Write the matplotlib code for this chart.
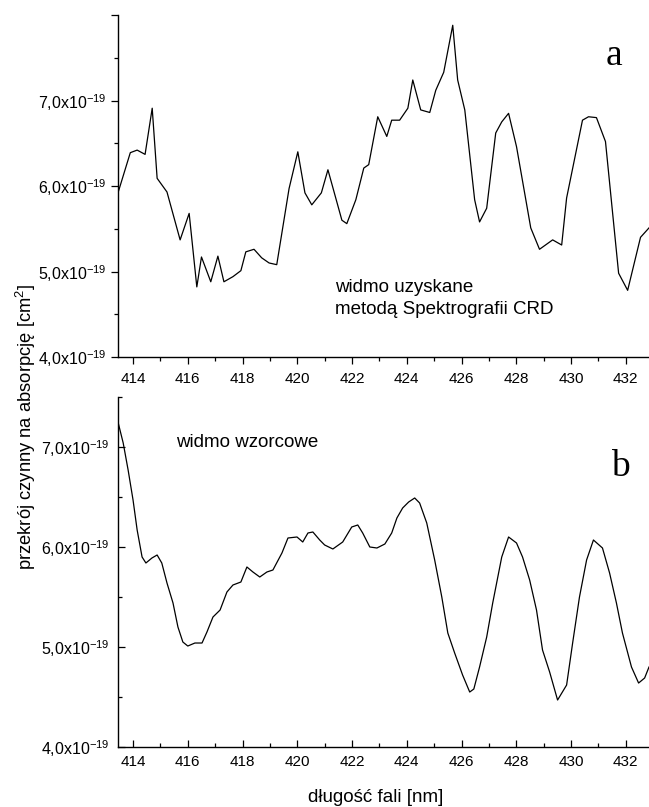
import matplotlib
matplotlib.use('Agg')
import matplotlib.pyplot as plt
from matplotlib.ticker import MultipleLocator, FuncFormatter

plt.rcParams['font.family'] = ['Liberation Sans', 'DejaVu Sans']

# widmo uzyskane (CRD) - panel a, wartosci w 1e-19 cm^2
wl_a = [413.45, 413.9, 414.15, 414.44, 414.7, 414.88, 415.24, 415.72, 416.05, 416.33,
        416.5, 416.84, 417.1, 417.32, 417.65, 417.94, 418.12, 418.42, 418.7, 418.97,
        419.25, 419.7, 420.02, 420.28, 420.53, 420.88, 421.12, 421.63, 421.81, 422.14,
        422.43, 422.61, 422.94, 423.27, 423.45, 423.74, 424.04, 424.22, 424.51, 424.84,
        425.06, 425.35, 425.68, 425.86, 426.12, 426.48, 426.66, 426.92, 427.25, 427.47,
        427.72, 428.01, 428.53, 428.85, 429.33, 429.66, 429.84, 430.42, 430.64, 430.93,
        431.26, 431.74, 432.07, 432.54, 432.85]
cs_a = [5.92, 6.39, 6.42, 6.37, 6.91, 6.09, 5.93, 5.37, 5.68, 4.82,
        5.17, 4.88, 5.18, 4.88, 4.94, 5.01, 5.23, 5.26, 5.16, 5.10,
        5.08, 5.97, 6.40, 5.92, 5.78, 5.92, 6.19, 5.60, 5.56, 5.84,
        6.21, 6.25, 6.81, 6.58, 6.77, 6.77, 6.91, 7.24, 6.89, 6.86,
        7.12, 7.33, 7.88, 7.24, 6.89, 5.84, 5.58, 5.74, 6.62, 6.75,
        6.85, 6.46, 5.51, 5.26, 5.37, 5.31, 5.86, 6.77, 6.81, 6.80,
        6.52, 4.98, 4.78, 5.40, 5.51]

# widmo wzorcowe - panel b
wl_b = [413.45, 413.64, 413.82, 414.0, 414.15, 414.33, 414.47, 414.69, 414.88, 415.05,
        415.24, 415.46, 415.64, 415.82, 416.0, 416.26, 416.52, 416.7, 416.92, 417.18,
        417.43, 417.65, 417.94, 418.16, 418.38, 418.63, 418.89, 419.11, 419.44, 419.66,
        419.99, 420.2, 420.39, 420.57, 420.82, 421.0, 421.3, 421.66, 421.99, 422.21,
        422.39, 422.65, 422.91, 423.2, 423.45, 423.64, 423.85, 424.07, 424.29, 424.47,
        424.73, 425.02, 425.28, 425.5, 425.75, 426.04, 426.3, 426.45, 426.66, 426.92,
        427.14, 427.47, 427.72, 428.01, 428.23, 428.49, 428.74, 428.96, 429.22, 429.51,
        429.84, 430.06, 430.31, 430.57, 430.82, 431.15, 431.41, 431.66, 431.88, 432.21,
        432.47, 432.69, 432.85]
cs_b = [7.25, 7.04, 6.77, 6.47, 6.17, 5.90, 5.84, 5.89, 5.92, 5.84,
        5.64, 5.44, 5.20, 5.05, 5.01, 5.04, 5.04, 5.15, 5.30, 5.37,
        5.55, 5.62, 5.65, 5.80, 5.75, 5.70, 5.75, 5.77, 5.94, 6.09,
        6.10, 6.05, 6.14, 6.15, 6.07, 6.02, 5.98, 6.05, 6.20, 6.22,
        6.14, 6.00, 5.99, 6.03, 6.14, 6.29, 6.39, 6.45, 6.49, 6.44,
        6.24, 5.87, 5.50, 5.14, 4.94, 4.72, 4.55, 4.58, 4.80, 5.10,
        5.44, 5.90, 6.10, 6.04, 5.90, 5.67, 5.37, 4.97, 4.75, 4.47,
        4.62, 5.04, 5.50, 5.87, 6.07, 5.99, 5.74, 5.44, 5.14, 4.80,
        4.64, 4.69, 4.80]


def fmt(v, pos):
    # gorna krawedz osi bez opisu
    if v > 7.6:
        return ''
    return '%d,0x10$^{\\mathregular{-19}}$' % round(v)


fig = plt.figure(figsize=(6.49, 8.07), dpi=100)
ax1 = fig.add_axes([0.1818, 0.5576, 0.8182, 0.4238])
ax2 = fig.add_axes([0.1818, 0.0743, 0.8182, 0.4338])

ax1.plot(wl_a, cs_a, color='black', lw=0.9)
ax2.plot(wl_b, cs_b, color='black', lw=0.9)

ax1.set_ylim(4.0, 8.0)
ax2.set_ylim(4.0, 7.5)

for ax, tdir in [(ax1, 'out'), (ax2, 'in')]:
    ax.set_xlim(413.45, 432.85)
    ax.spines['top'].set_visible(False)
    ax.spines['right'].set_visible(False)
    ax.spines['left'].set_linewidth(1.0)
    ax.spines['bottom'].set_linewidth(1.0)
    ax.xaxis.set_major_locator(MultipleLocator(2))
    ax.xaxis.set_minor_locator(MultipleLocator(1))
    ax.yaxis.set_major_locator(MultipleLocator(1))
    ax.yaxis.set_minor_locator(MultipleLocator(0.5))
    ax.yaxis.set_major_formatter(FuncFormatter(fmt))
    ax.tick_params(which='major', direction=tdir, length=5, width=0.9)
    ax.tick_params(which='minor', direction=tdir, length=3, width=0.9)
    ax.tick_params(axis='x', labelsize=11)
    ax.tick_params(axis='y', labelsize=11.5)

ax1.tick_params(axis='x', pad=6)
ax1.tick_params(axis='y', pad=3)
ax2.tick_params(axis='x', pad=6)
ax2.tick_params(axis='y', pad=6)

ax1.text(0.934, 0.88, 'a', transform=ax1.transAxes, fontsize=27,
         family='Liberation Serif', ha='center', va='center')
ax2.text(0.947, 0.80, 'b', transform=ax2.transAxes, fontsize=27,
         family='Liberation Serif', ha='center', va='center')

ax1.text(0.409, 0.171, 'widmo uzyskane\nmetodą Spektrografii CRD', transform=ax1.transAxes,
         fontsize=13.5, linespacing=1.45, va='center', ha='left')
ax2.text(0.11, 0.87, 'widmo wzorcowe', transform=ax2.transAxes,
         fontsize=13.5, va='center', ha='left')

fig.text(26 / 649, 1 - 427 / 807, 'przekrój czynny na absorpcję [cm$^\\mathregular{2}$]',
         rotation=90, fontsize=13.2, ha='center', va='center')
fig.text(376 / 649, 1 - 797 / 807, 'długość fali [nm]', fontsize=13.5, ha='center', va='center')

fig.savefig('out.png', dpi=100)
